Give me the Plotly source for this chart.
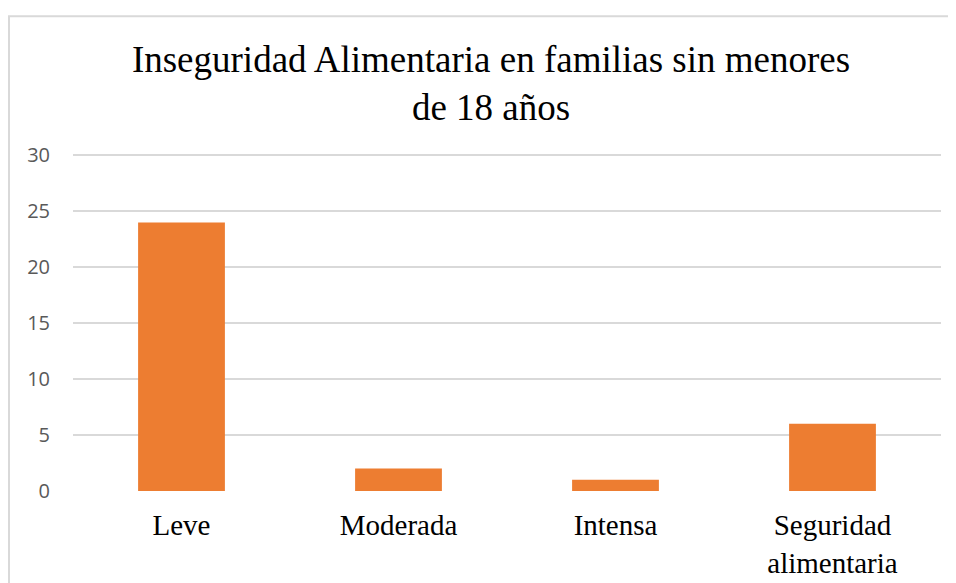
import plotly.graph_objects as go

categories = ["Leve", "Moderada", "Intensa", "Seguridad<br>alimentaria"]
values = [24, 2, 1, 6]
y_ticks = [0, 5, 10, 15, 20, 25, 30]

# the page body keeps its default 8px margin, so the figure is made 8px smaller
OFF = 8
W, H = 956 - OFF, 583 - OFF
YMAX = 30.2  # a little headroom so the 30 gridline is drawn
unit = (491 - 155) / 30
L, R, B = 73 - OFF, 15, 92
T = 155 - OFF - (YMAX - 30) * unit
pw, ph = W - L - R, H - T - B


def px_x(x):
    # screen pixel -> paper x
    return (x - OFF - L) / pw


def px_y(y):
    # screen pixel -> paper y
    return (H - B - (y - OFF)) / ph


fig = go.Figure()
fig.add_trace(go.Bar(
    x=categories,
    y=values,
    width=0.4,
    marker=dict(color="#ED7D31", line=dict(width=0)),
    hoverinfo="x+y",
))

# outer chart frame (cropped on right and bottom)
fig.add_shape(
    type="rect", xref="paper", yref="paper",
    x0=px_x(9), x1=px_x(975), y0=px_y(610), y1=px_y(16),
    line=dict(color="#D9D9D9", width=2),
    fillcolor="rgba(0,0,0,0)", layer="below",
)

fig.update_layout(
    width=W, height=H,
    margin=dict(l=L, r=R, t=T, b=B),
    paper_bgcolor="white",
    plot_bgcolor="white",
    showlegend=False,
    title=dict(
        text="Inseguridad Alimentaria en familias sin menores<br>de 18 años",
        font=dict(family="Liberation Serif, Times New Roman, serif", size=37, color="#000000"),
        x=(491 - OFF) / W, xanchor="center", xref="container",
        y=1 - 64 / H, yanchor="top", yref="container",
    ),
    xaxis=dict(
        showgrid=False, showline=False, zeroline=False, ticks="",
        tickfont=dict(family="Liberation Serif, Times New Roman, serif", size=29, color="#000000"),
        ticklabelstandoff=14, automargin=False,
    ),
    yaxis=dict(
        range=[0, YMAX], tickvals=y_ticks, showgrid=True,
        gridcolor="#D9D9D9", gridwidth=1.5,
        zeroline=False, showline=False, ticks="",
        tickfont=dict(family="Open Sans, sans-serif", size=20, color="#595959"),
        ticklabelstandoff=22, automargin=False,
    ),
)

fig.write_html("out.html")
